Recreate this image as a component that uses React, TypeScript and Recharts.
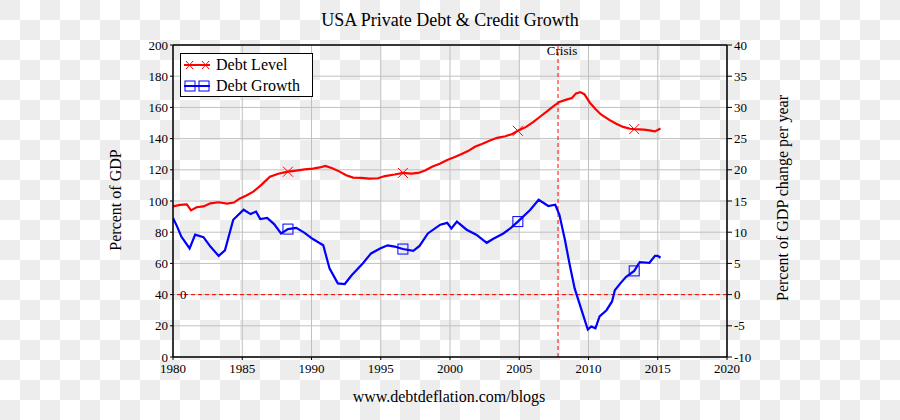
import React from "react";
import {
  ComposedChart,
  Line,
  XAxis,
  YAxis,
  CartesianGrid,
  ReferenceLine,
} from "recharts";

const levelYears = [
  1980.0, 1980.5, 1981.0, 1981.3, 1981.7, 1982.2, 1982.7, 1983.3, 1983.9, 1984.4,
  1984.8, 1985.3, 1985.8, 1986.4, 1987.0, 1987.6, 1988.3, 1988.9, 1989.5, 1990.1,
  1990.6, 1991.0, 1991.5, 1992.0, 1992.5, 1993.0, 1993.6, 1994.2, 1994.8, 1995.3,
  1996.0, 1996.6, 1997.2, 1997.7, 1998.2, 1998.7, 1999.3, 1999.8, 2000.3, 2000.8,
  2001.3, 2001.8, 2002.3, 2002.8, 2003.4, 2004.0, 2004.5, 2004.9, 2005.5, 2006.0,
  2006.5, 2007.0, 2007.5, 2007.9, 2008.4, 2008.8, 2009.1, 2009.4, 2009.7, 2010.1,
  2010.5, 2010.9, 2011.5, 2012.0, 2012.5, 2013.0, 2013.3, 2014.0, 2014.4, 2014.8,
  2015.2,
];
const levelValues = [
  96.5, 97.5, 97.8, 94.0, 96.0, 96.5, 98.5, 99.2, 98.3, 99.0,
  101.5, 103.5, 106.0, 110.5, 115.5, 117.5, 118.8, 119.5, 120.3, 120.8,
  121.5, 122.5, 121.0, 119.0, 116.5, 115.0, 114.8, 114.3, 114.6, 116.0,
  117.0, 118.0, 117.5, 118.0, 119.5, 122.0, 124.0, 126.3, 128.0, 130.0,
  132.0, 134.8, 136.5, 138.5, 140.5, 141.5, 143.0, 145.0, 147.5, 150.5,
  154.0, 157.5, 161.0, 163.5, 165.0, 166.0, 169.0, 169.8, 168.5, 163.0,
  159.0, 155.5, 152.0, 149.5, 147.5, 146.3, 146.1, 145.8, 145.3, 144.6,
  146.5,
];

const growthYears = [
  1980.0, 1980.3, 1980.6, 1981.2, 1981.6, 1982.2, 1982.7, 1983.3, 1983.75, 1984.35,
  1985.1, 1985.6, 1986.0, 1986.3, 1986.8, 1987.3, 1987.8, 1988.3, 1988.9, 1989.5,
  1990.1, 1990.85, 1991.3, 1991.9, 1992.4, 1992.9, 1993.7, 1994.3, 1994.95, 1995.5,
  1996.0, 1996.6, 1997.35, 1997.8, 1998.4, 1999.3, 1999.8, 2000.1, 2000.5, 2001.2,
  2001.9, 2002.65, 2003.1, 2003.85, 2004.4, 2004.9, 2005.8, 2006.4, 2007.1, 2007.6,
  2007.9, 2008.3, 2008.65, 2009.0, 2009.5, 2009.95, 2010.2, 2010.5, 2010.8, 2011.3,
  2011.7, 2011.9, 2012.3, 2012.7, 2013.3, 2013.7, 2014.4, 2014.8, 2015.0, 2015.2,
];
const growthValues = [
  12.3, 10.9, 9.3, 7.4, 9.6, 9.2, 7.7, 6.2, 7.1, 12.0,
  13.6, 12.9, 13.3, 12.1, 12.3, 11.3, 9.8, 10.5, 10.7, 9.9,
  8.9, 7.9, 4.2, 1.8, 1.7, 3.1, 5.0, 6.6, 7.4, 7.9,
  7.7, 7.3, 7.0, 7.8, 9.8, 11.2, 11.5, 10.6, 11.7, 10.4,
  9.6, 8.3, 8.9, 9.8, 10.7, 11.7, 13.6, 15.2, 14.2, 14.4,
  12.8, 8.75, 4.7, 1.0, -2.5, -5.6, -5.1, -5.4, -3.5, -2.5,
  -1.1, 0.7, 1.8, 2.8, 3.8, 5.2, 5.1, 6.2, 6.2, 5.9,
];

const markerYears = [1988.3, 1996.6, 2004.9, 2013.3];
const crisisYear = 2007.8;
const xTicks = [1980, 1985, 1990, 1995, 2000, 2005, 2010, 2015, 2020];
const leftTicks = [0, 20, 40, 60, 80, 100, 120, 140, 160, 180, 200];
const rightTicks = [-10, -5, 0, 5, 10, 15, 20, 25, 30, 35, 40];

const levelData = levelYears.map((year, i) => ({ year, value: levelValues[i] }));
const growthData = growthYears.map((year, i) => ({ year, value: growthValues[i] }));

const FONT = "'Liberation Serif', 'Times New Roman', serif";
const tickStyle = { fill: "#000", fontSize: 13, fontFamily: FONT };

const CrossDot = (props: any) => {
  const { cx, cy, payload, index } = props;
  if (!markerYears.includes(payload.year)) return <g key={`c${index}`} />;
  return (
    <g key={`c${index}`} stroke="#ff0000" strokeWidth={1}>
      <line x1={cx - 5} y1={cy - 5} x2={cx + 5} y2={cy + 5} />
      <line x1={cx - 5} y1={cy + 5} x2={cx + 5} y2={cy - 5} />
    </g>
  );
};

const SquareDot = (props: any) => {
  const { cx, cy, payload, index } = props;
  if (!markerYears.includes(payload.year)) return <g key={`s${index}`} />;
  return (
    <rect
      key={`s${index}`}
      x={cx - 5}
      y={cy - 5}
      width={10}
      height={10}
      fill="none"
      stroke="#0000ff"
      strokeWidth={1}
    />
  );
};

export default function App() {
  return (
    <div
      style={{
        position: "relative",
        width: 900,
        height: 420,
        backgroundColor: "#fff",
        backgroundImage:
          "conic-gradient(#fff 25%, #ededed 0 50%, #fff 0 75%, #ededed 0)",
        backgroundSize: "40px 40px",
        fontFamily: FONT,
        overflow: "hidden",
      }}
    >
      <style>{"body{margin:0}"}</style>
      <div
        style={{
          position: "absolute",
          top: 10,
          left: 0,
          width: 900,
          textAlign: "center",
          fontSize: 18,
        }}
      >
        USA Private Debt &amp; Credit Growth
      </div>

      <ComposedChart
        width={900}
        height={420}
        margin={{ top: 45, right: 113, bottom: 33, left: 113 }}
      >
        <CartesianGrid yAxisId="left" stroke="#c0c0c0" strokeWidth={1} />
        <XAxis
          dataKey="year"
          type="number"
          domain={[1980, 2020]}
          ticks={xTicks}
          allowDataOverflow
          height={30}
          tick={{ ...tickStyle, dy: 2 }}
          tickSize={3}
          tickLine={{ stroke: "#000" }}
          axisLine={{ stroke: "#000", strokeWidth: 1.5 }}
          interval={0}
        />
        <YAxis
          yAxisId="left"
          domain={[0, 200]}
          ticks={leftTicks}
          width={60}
          tick={tickStyle}
          tickSize={3}
          tickLine={{ stroke: "#000" }}
          axisLine={{ stroke: "#000", strokeWidth: 1.5 }}
          interval={0}
        />
        <YAxis
          yAxisId="right"
          orientation="right"
          domain={[-10, 40]}
          ticks={rightTicks}
          width={60}
          tick={tickStyle}
          tickSize={5}
          tickLine={{ stroke: "#000" }}
          axisLine={{ stroke: "#000", strokeWidth: 1.5 }}
          interval={0}
        />
        <ReferenceLine yAxisId="left" y={200} stroke="#000" strokeWidth={1.5} />
        <ReferenceLine
          yAxisId="right"
          y={0}
          stroke="#ff0000"
          strokeDasharray="4 3"
          strokeWidth={1}
          label={{
            value: "0",
            position: "insideLeft",
            fill: "#000",
            fontSize: 13,
            fontFamily: FONT,
            dx: 2,
          }}
        />
        <ReferenceLine
          yAxisId="left"
          x={crisisYear}
          stroke="#ff0000"
          strokeDasharray="4 3"
          strokeWidth={1}
          label={{
            value: "Crisis",
            position: "insideTop",
            fill: "#000",
            fontSize: 13,
            fontFamily: FONT,
            dx: 4,
            dy: -4,
          }}
        />
        <Line
          yAxisId="left"
          data={levelData}
          dataKey="value"
          type="linear"
          stroke="#ff0000"
          strokeWidth={2.2}
          dot={CrossDot}
          activeDot={false}
          isAnimationActive={false}
        />
        <Line
          yAxisId="right"
          data={growthData}
          dataKey="value"
          type="linear"
          stroke="#0000ff"
          strokeWidth={2.2}
          dot={SquareDot}
          activeDot={false}
          isAnimationActive={false}
        />
      </ComposedChart>

      {/* legend box */}
      <div
        style={{
          position: "absolute",
          left: 180,
          top: 53,
          width: 131,
          height: 42,
          background: "#fff",
          border: "1px solid #000",
          fontSize: 16,
        }}
      >
        <svg width={30} height={44} style={{ position: "absolute", left: 1, top: 0 }}>
          <g stroke="#ff0000">
            <line x1={2} y1={11} x2={28} y2={11} strokeWidth={2} />
            <line x1={4} y1={7} x2={11} y2={15} strokeWidth={1} />
            <line x1={4} y1={15} x2={11} y2={7} strokeWidth={1} />
            <line x1={20} y1={7} x2={27} y2={15} strokeWidth={1} />
            <line x1={20} y1={15} x2={27} y2={7} strokeWidth={1} />
          </g>
          <g stroke="#0000ff" fill="none">
            <line x1={2} y1={32} x2={28} y2={32} strokeWidth={2} />
            <rect x={3} y={27} width={10} height={10} strokeWidth={1} />
            <rect x={17} y={27} width={10} height={10} strokeWidth={1} />
          </g>
        </svg>
        <div style={{ position: "absolute", left: 35, top: 1, lineHeight: "20px" }}>
          Debt Level
        </div>
        <div style={{ position: "absolute", left: 35, top: 22, lineHeight: "20px" }}>
          Debt Growth
        </div>
      </div>

      <div
        style={{
          position: "absolute",
          left: 116,
          top: 200,
          transform: "translate(-50%, -50%) rotate(-90deg)",
          whiteSpace: "nowrap",
          fontSize: 16,
        }}
      >
        Percent of GDP
      </div>
      <div
        style={{
          position: "absolute",
          left: 783,
          top: 198,
          transform: "translate(-50%, -50%) rotate(-90deg)",
          whiteSpace: "nowrap",
          fontSize: 16,
        }}
      >
        Percent of GDP change per year
      </div>

      <div
        style={{
          position: "absolute",
          top: 388,
          left: 0,
          width: 898,
          textAlign: "center",
          fontSize: 16,
        }}
      >
        www.debtdeflation.com/blogs
      </div>
    </div>
  );
}
